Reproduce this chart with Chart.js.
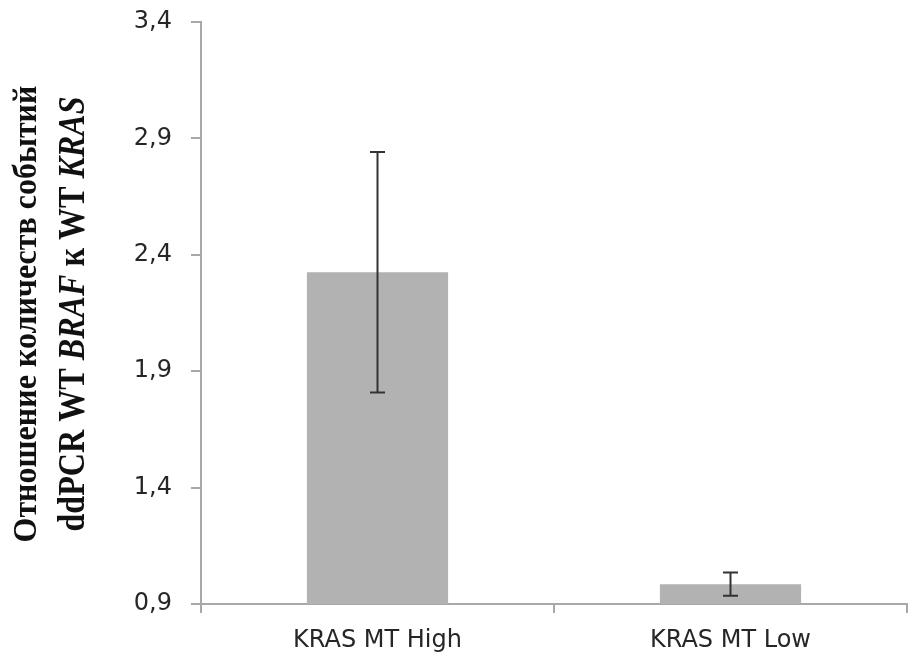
<!DOCTYPE html>
<html>
<head>
<meta charset="utf-8">
<script src="https://cdn.jsdelivr.net/npm/chart.js@4.4.1/dist/chart.umd.min.js"></script>
<style>
  html, body { margin: 0; padding: 0; background: #ffffff; }
  #wrap { width: 922px; height: 652px; position: relative; }
</style>
</head>
<body>
<div id="wrap"><canvas id="c" width="922" height="652"></canvas></div>
<script>
// ---- data ----
const categories = ['KRAS MT High', 'KRAS MT Low'];
const ratioValues = [2.325, 0.985];
const ratioErrors = [0.517, 0.05];
const yTickValues = [0.9, 1.4, 1.9, 2.4, 2.9, 3.4];
const yTickLabels = ['0,9', '1,4', '1,9', '2,4', '2,9', '3,4'];
const titleLine1 = 'Отношение количеств событий';
const titleLine2Parts = [
  { text: 'ddPCR WT ', italic: false },
  { text: 'BRAF', italic: true },
  { text: ' к WT ', italic: false },
  { text: 'KRAS', italic: true }
];

const AXIS_COLOR = '#a8a8a8';
const TEXT_COLOR = '#262626';

const errorBarPlugin = {
  id: 'errorBars',
  afterDatasetsDraw(chart) {
    const ctx = chart.ctx;
    const meta = chart.getDatasetMeta(0);
    const ys = chart.scales.y;
    ctx.save();
    ctx.strokeStyle = '#333333';
    ctx.lineWidth = 2;
    meta.data.forEach((bar, i) => {
      const x = bar.x;
      const top = ys.getPixelForValue(ratioValues[i] + ratioErrors[i]);
      const bot = ys.getPixelForValue(ratioValues[i] - ratioErrors[i]);
      const cap = 7.5;
      ctx.beginPath();
      ctx.moveTo(x, top); ctx.lineTo(x, bot);
      ctx.moveTo(x - cap, top); ctx.lineTo(x + cap, top);
      ctx.moveTo(x - cap, bot); ctx.lineTo(x + cap, bot);
      ctx.stroke();
    });
    ctx.restore();
  }
};

const yTitlePlugin = {
  id: 'yTitle',
  afterDraw(chart) {
    const ctx = chart.ctx;
    const area = chart.chartArea;
    const yc = (area.top + area.bottom) / 2 + 1;
    ctx.save();
    ctx.fillStyle = '#111111';
    ctx.textBaseline = 'alphabetic';
    ctx.textAlign = 'left';
    // line 1
    ctx.save();
    ctx.font = 'bold 34px "Liberation Serif", "DejaVu Serif", serif';
    const w1 = ctx.measureText(titleLine1).width;
    const target1 = 457;
    const f1 = target1 / w1;
    ctx.translate(36, yc);
    ctx.rotate(-Math.PI / 2);
    ctx.scale(f1, 1);
    ctx.fillText(titleLine1, -w1 / 2, 0);
    ctx.restore();
    // line 2
    ctx.save();
    const fontFor = p => (p.italic ? 'italic bold 37px ' : 'bold 37px ') + '"Liberation Serif", "DejaVu Serif", serif';
    let w2 = 0;
    titleLine2Parts.forEach(p => { ctx.font = fontFor(p); p.w = ctx.measureText(p.text).width; w2 += p.w; });
    const target2 = 435;
    const f2 = target2 / w2;
    ctx.translate(84, yc);
    ctx.rotate(-Math.PI / 2);
    ctx.scale(f2, 1);
    let xPos = -w2 / 2;
    titleLine2Parts.forEach(p => { ctx.font = fontFor(p); ctx.fillText(p.text, xPos, 0); xPos += p.w; });
    ctx.restore();
    ctx.restore();
  }
};

new Chart(document.getElementById('c'), {
  type: 'bar',
  data: {
    labels: categories,
    datasets: [{
      data: ratioValues,
      backgroundColor: '#b2b2b2',
      borderWidth: 0,
      barPercentage: 1.0,
      categoryPercentage: 0.4
    }]
  },
  options: {
    responsive: false,
    animation: false,
    devicePixelRatio: 1,
    layout: { padding: { left: 0, right: 15, top: 22, bottom: 0 } },
    plugins: { legend: { display: false }, tooltip: { enabled: false } },
    scales: {
      x: {
        grid: { display: true, drawOnChartArea: false, drawTicks: true, tickLength: 9, color: AXIS_COLOR, lineWidth: 2, offset: true },
        border: { display: true, color: AXIS_COLOR, width: 2 },
        ticks: { color: TEXT_COLOR, font: { family: '"DejaVu Sans", sans-serif', size: 24 }, padding: 13, maxRotation: 0 },
        afterFit(scale) { scale.height = 48; scale.paddingLeft = 0; scale.paddingRight = 0; }
      },
      y: {
        min: 0.9,
        max: 3.4,
        afterBuildTicks(scale) { scale.ticks = yTickValues.map(v => ({ value: v })); },
        grid: { display: true, drawOnChartArea: false, drawTicks: true, tickLength: 10, color: AXIS_COLOR, lineWidth: 2 },
        border: { display: true, color: AXIS_COLOR, width: 2 },
        ticks: {
          color: TEXT_COLOR,
          font: { family: '"DejaVu Sans", sans-serif', size: 24 },
          padding: 19,
          callback: (v, i) => yTickLabels[i]
        },
        afterFit(scale) { scale.width = 201; scale.paddingTop = 0; scale.paddingBottom = 0; }
      }
    }
  },
  plugins: [errorBarPlugin, yTitlePlugin]
});
</script>
</body>
</html>
